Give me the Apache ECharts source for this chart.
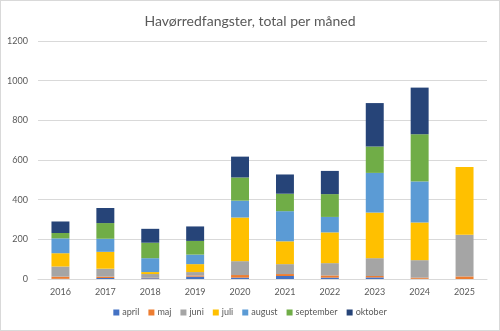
<!DOCTYPE html>
<html><head><meta charset="utf-8">
<script src="https://cdn.jsdelivr.net/npm/echarts@6/dist/echarts.min.js"></script>
<style>
html,body{margin:0;padding:0;background:#fff;}
#c{width:500px;height:331px;box-sizing:border-box;border:1px solid #d9d9d9;}
</style></head>
<body><div id="c"></div>
<script>
const categories = ['2016','2017','2018','2019','2020','2021','2022','2023','2024','2025'];
const seriesNames = ['april','maj','juni','juli','august','september','oktober'];
const april     = [1, 5, 4, 12, 7, 15, 7, 8, 1, 0];
const maj       = [11, 7, 2, 6, 13, 10, 11, 7, 6, 13];
const juni      = [51, 40, 19, 17, 70, 50, 62, 90, 88, 210];
const juli      = [67, 85, 10, 40, 220, 115, 155, 230, 190, 342];
const august    = [75, 66, 70, 48, 85, 152, 78, 200, 207, null];
const september = [27, 79, 78, 69, 117, 88, 115, 133, 238, null];
const oktober   = [58, 76, 70, 73, 105, 97, 117, 219, 235, null];
const yTicks = [0, 200, 400, 600, 800, 1000, 1200];

const values = [april, maj, juni, juli, august, september, oktober];
const colors = ['#4472C4','#ED7D31','#A5A5A5','#FFC000','#5B9BD5','#70AD47','#264478'];
const font = 'Lato, "Open Sans", sans-serif';

const chart = echarts.init(document.getElementById('c'));
chart.setOption({
  animation: false,
  title: {
    text: 'Havørredfangster, total per måned',
    left: 'center', top: 8,
    textStyle: { fontFamily: font, fontSize: 14, fontWeight: 'normal', color: '#595959' }
  },
  legend: {
    bottom: 8, left: 'center',
    itemWidth: 6, itemHeight: 6, itemGap: 9,
    icon: 'rect',
    textStyle: { fontFamily: font, fontSize: 9, color: '#595959', padding: [0,0,0,-2] },
    data: seriesNames
  },
  grid: { left: 37, right: 12, top: 40, bottom: 51 },
  xAxis: {
    type: 'category', data: categories,
    axisLine: { lineStyle: { color: '#d9d9d9' } },
    axisTick: { show: false },
    axisLabel: { fontFamily: font, fontSize: 9, color: '#595959', margin: 9 }
  },
  yAxis: {
    type: 'value', min: yTicks[0], max: yTicks[yTicks.length-1], interval: 200,
    axisLine: { show: false }, axisTick: { show: false },
    splitLine: { lineStyle: { color: '#d9d9d9' } },
    axisLabel: { fontFamily: font, fontSize: 9, color: '#595959', margin: 10,
      formatter: v => String(v) }
  },
  series: seriesNames.map((n, i) => ({
    name: n, type: 'bar', stack: 'total',
    data: values[i],
    barCategoryGap: '60%',
    itemStyle: { color: colors[i] }
  }))
});
</script></body></html>
